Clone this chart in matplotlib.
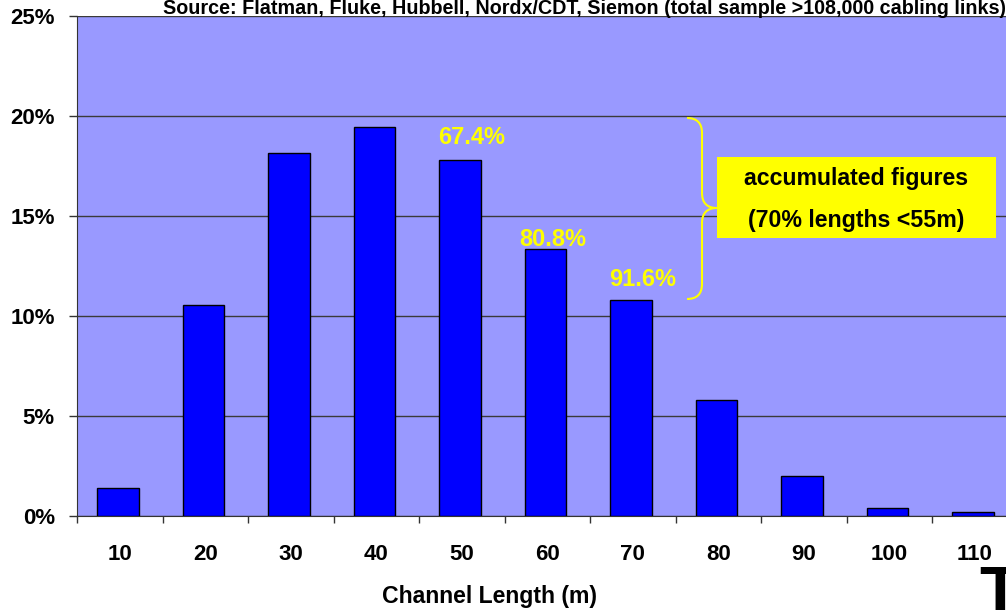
import matplotlib
matplotlib.use("Agg")
import matplotlib.pyplot as plt
from matplotlib.path import Path
from matplotlib.patches import PathPatch, Rectangle

plt.rcParams['font.family'] = ['Liberation Sans', 'DejaVu Sans']
plt.rcParams['font.weight'] = 'bold'

categories = ['10', '20', '30', '40', '50', '60', '70', '80', '90', '100', '110']
shares = [1.4, 10.55, 18.15, 19.45, 17.8, 13.35, 10.8, 5.8, 2.0, 0.4, 0.2]
y_ticks = [0, 5, 10, 15, 20, 25]
y_labels = ['0%', '5%', '10%', '15%', '20%', '25%']
cum_labels = ['67.4%', '80.8%', '91.6%']
cum_pos = [(4.12, 18.9), (5.06, 13.85), (6.11, 11.8)]

W, H = 1006, 610
fig = plt.figure(figsize=(W / 100, H / 100), dpi=100)
ax = fig.add_axes([77 / W, (H - 516) / H, 940.5 / W, 500 / H])
ax.set_facecolor('#9999FF')

x = [i - 0.02 for i in range(len(categories))]
ax.bar(x, shares, width=0.49, color='#0000FF', edgecolor='black', linewidth=1, zorder=3)
ax.set_xlim(-0.5, len(categories) - 0.5)
ax.set_ylim(0, 25)

ax.set_yticks(y_ticks)
ax.set_yticklabels(y_labels, fontsize=16, fontweight='bold')
ax.set_xticks(range(len(categories)))
ax.set_xticklabels(categories, fontsize=16, fontweight='bold')
ax.set_xticks([i - 0.5 for i in range(len(categories) + 1)], minor=True)
ax.tick_params(axis='x', which='major', length=0, pad=20)
ax.tick_params(axis='x', which='minor', length=5, width=1, color='#333333', direction='out')
ax.tick_params(axis='y', length=6, width=1, color='#333333', pad=10)
ax.grid(axis='y', color='#3a3a3a', linewidth=1, zorder=1)
ax.set_axisbelow(True)
for s in ['top', 'right']:
    ax.spines[s].set_visible(False)
ax.spines['left'].set_color('#333333')
ax.spines['bottom'].set_color('#333333')

for lab, (cx, cy) in zip(cum_labels, cum_pos):
    ax.text(cx, cy, lab, color='#FFFF00', fontsize=17, fontweight='bold', ha='center', va='center', zorder=5)

# curly brace (pixel -> data conversion)
def px(xp, yp):
    return ((xp - 77) / 85.5 - 0.5, (516 - yp) / 20)

verts = [px(687, 118), px(702, 118), px(702, 133), px(702, 193), px(702, 208), px(717, 208),
         px(702, 208), px(702, 223), px(702, 284), px(702, 299), px(687, 299)]
codes = [Path.MOVETO, Path.CURVE3, Path.CURVE3, Path.LINETO, Path.CURVE3, Path.CURVE3,
         Path.CURVE3, Path.CURVE3, Path.LINETO, Path.CURVE3, Path.CURVE3]
ax.add_patch(PathPatch(Path(verts, codes), facecolor='none', edgecolor='#FFFF00', linewidth=1.5, zorder=5))

x0, y0 = px(717, 238)
x1, y1 = px(996, 157)
ax.add_patch(Rectangle((x0, y0), x1 - x0, y1 - y0, facecolor='#FFFF00', edgecolor='none', zorder=5))
tx, _ = px(856, 0)
ax.text(tx, px(0, 179)[1], 'accumulated figures', fontsize=16.7, fontweight='bold', ha='center', va='center', zorder=6)
ax.text(tx, px(0, 220)[1], '(70% lengths <55m)', fontsize=16.7, fontweight='bold', ha='center', va='center', zorder=6)

fig.text(163 / W, 1 - 8 / H, 'Source: Flatman, Fluke, Hubbell, Nordx/CDT, Siemon (total sample >108,000 cabling links)',
         fontsize=14.2, fontweight='bold', ha='left', va='center')
fig.text(490 / W, 1 - 597 / H, 'Channel Length (m)', fontsize=16.6, fontweight='bold', ha='center', va='center')
fig.text(979 / W, 1 - 565 / H, 'T', fontsize=48, fontweight='bold', ha='left', va='top')

fig.savefig('out.png', dpi=100, facecolor='white')
